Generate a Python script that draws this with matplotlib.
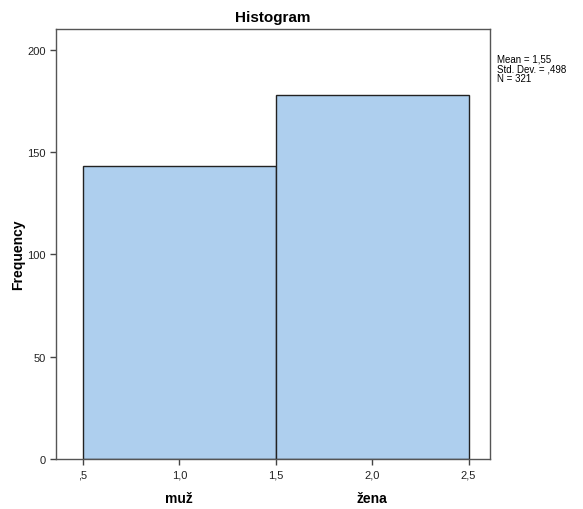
import matplotlib
matplotlib.use('Agg')
import matplotlib.pyplot as plt

# --- données ---
categories = ['muž', 'žena']
bin_edges = [0.5, 1.5, 2.5]
frequences = [143, 178]
x_ticks = [0.5, 1.0, 1.5, 2.0, 2.5]
x_tick_labels = [',5', '1,0', '1,5', '2,0', '2,5']
y_ticks = [0, 50, 100, 150, 200]
stats_txt = 'Mean = 1,55\nStd. Dev. = ,498\nN = 321'

plt.rcParams['font.family'] = ['Liberation Sans', 'DejaVu Sans']

fig = plt.figure(figsize=(5.83, 5.10), dpi=100)
ax = fig.add_axes([0.096, 0.098, 0.744, 0.843])

centres = [(a + b) / 2 for a, b in zip(bin_edges[:-1], bin_edges[1:])]
ax.hist(centres, bins=bin_edges, weights=frequences,
        color='#aecfee', edgecolor='#222222', linewidth=1.0)

ax.set_xlim(0.36, 2.61)
ax.set_ylim(0, 210)
ax.set_xticks(x_ticks)
ax.set_xticklabels(x_tick_labels)
ax.set_yticks(y_ticks)
ax.tick_params(labelsize=8, length=4, width=1, color='#444444', labelcolor='#222222')

for s in ax.spines.values():
    s.set_color('#555555')
    s.set_linewidth(1.0)

ax.set_title('Histogram', fontsize=11, fontweight='bold', pad=6)

# titre de l'axe y, placé à la main pour ne pas sortir du cadre
fig.text(18 / 583, 0.5, 'Frequency', rotation=90, fontsize=10,
         fontweight='bold', ha='center', va='center')

# libellés des catégories sous l'axe x
for c, lab in zip(centres, categories):
    ax.text(c, -0.09, lab, transform=ax.get_xaxis_transform(),
            ha='center', va='center', fontsize=10, fontweight='bold')

fig.text(0.853, 0.893, stats_txt, fontsize=7, va='top', ha='left',
         linespacing=0.95)

fig.savefig('out.png', dpi=100)
